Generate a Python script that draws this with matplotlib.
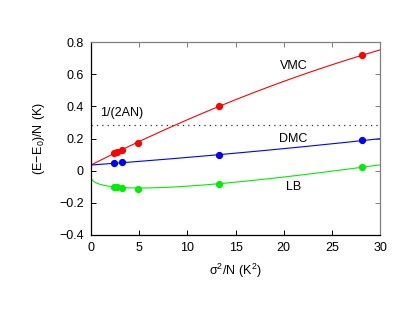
import numpy as np
import matplotlib
matplotlib.use("Agg")
import matplotlib.pyplot as plt

plt.rcParams['font.family'] = ['Liberation Sans', 'DejaVu Sans']
plt.rcParams['axes.unicode_minus'] = True

# data points
vmc_x = [2.42, 2.67, 3.18, 4.85, 13.3, 28.1]
vmc_y = [0.108, 0.114, 0.129, 0.172, 0.400, 0.717]
dmc_x = [2.42, 3.18, 13.3, 28.1]
dmc_y = [0.048, 0.054, 0.0995, 0.191]
lb_x = [2.42, 2.67, 3.18, 4.85, 13.3, 28.1]
lb_y = [-0.101, -0.102, -0.110, -0.117, -0.080, 0.021]

# fit coefficients (estimated from the drawn curves)
vmc_fit = [0.035, 0.0303, -0.000214]      # a + b x + c x^2
dmc_fit = [0.035, 0.00436, 0.0000369]     # a + b x + c x^2
lb_fit = [-0.037, -0.0628, 0.01391]       # a + b sqrt(x) + c x

limit_val = 0.284
limit_label = "1/(2AN)"

xt = [0, 5, 10, 15, 20, 25, 30]
yt = [-0.4, -0.2, 0, 0.2, 0.4, 0.6, 0.8]

fs = 9

fig = plt.figure(figsize=(4.15, 3.21), dpi=100)
ax = fig.add_axes([0.219, 0.268, 0.697, 0.601])

xx = np.linspace(0, 30, 400)
ax.plot(xx, vmc_fit[0] + vmc_fit[1]*xx + vmc_fit[2]*xx**2, color='#ff0000', lw=0.8)
ax.plot(xx, dmc_fit[0] + dmc_fit[1]*xx + dmc_fit[2]*xx**2, color='#0000ff', lw=0.8)
ax.plot(xx, lb_fit[0] + lb_fit[1]*np.sqrt(xx) + lb_fit[2]*xx, color='#00ee00', lw=0.8)

ax.plot(vmc_x, vmc_y, 'o', color='#ff0000', ms=4.2)
ax.plot(dmc_x, dmc_y, 'o', color='#0000ff', ms=4.2)
ax.plot(lb_x, lb_y, 'o', color='#00ee00', ms=4.2)

ax.axhline(limit_val, color='#333333', lw=0.9, ls=(0, (1, 3.3)))

ax.text(0.93, 0.36, limit_label, fontsize=fs, va='center', ha='left')
ax.text(21, 0.65, "VMC", fontsize=fs, va='center', ha='center')
ax.text(21, 0.2, "DMC", fontsize=fs, va='center', ha='center')
ax.text(21, -0.1, "LB", fontsize=fs, va='center', ha='center')

ax.set_xlim(0, 30)
ax.set_ylim(-0.4, 0.8)
ax.set_xticks(xt)
ax.set_yticks(yt)
ax.set_xticklabels([str(v) for v in xt])
ax.set_yticklabels(["\u22120.4", "\u22120.2", "0", "0.2", "0.4", "0.6", "0.8"])
ax.tick_params(direction='in', length=3.5, width=0.7, labelsize=fs, pad=5)

for s in ['left', 'bottom']:
    ax.spines[s].set_linewidth(0.9)
    ax.spines[s].set_color('black')
for s in ['top', 'right']:
    ax.spines[s].set_linewidth(0.9)
    ax.spines[s].set_color('#808080')

top = ax.secondary_xaxis('top')
top.set_xticks(xt)
top.tick_params(direction='in', length=3.5, width=0.7, color='#808080', labeltop=False)
top.spines['top'].set_visible(False)
right = ax.secondary_yaxis('right')
right.set_yticks(yt)
right.tick_params(direction='in', length=3.5, width=0.7, color='#808080', labelright=False)
right.spines['right'].set_visible(False)

ax.set_xlabel(r"$\mathregular{\sigma^2/N\ (K^2)}$", fontsize=fs, labelpad=6)
ax.set_ylabel(r"$\mathregular{(E\!-\!E_0)/N\ (K)}$", fontsize=fs, labelpad=9)

fig.savefig("out.png", dpi=100)
